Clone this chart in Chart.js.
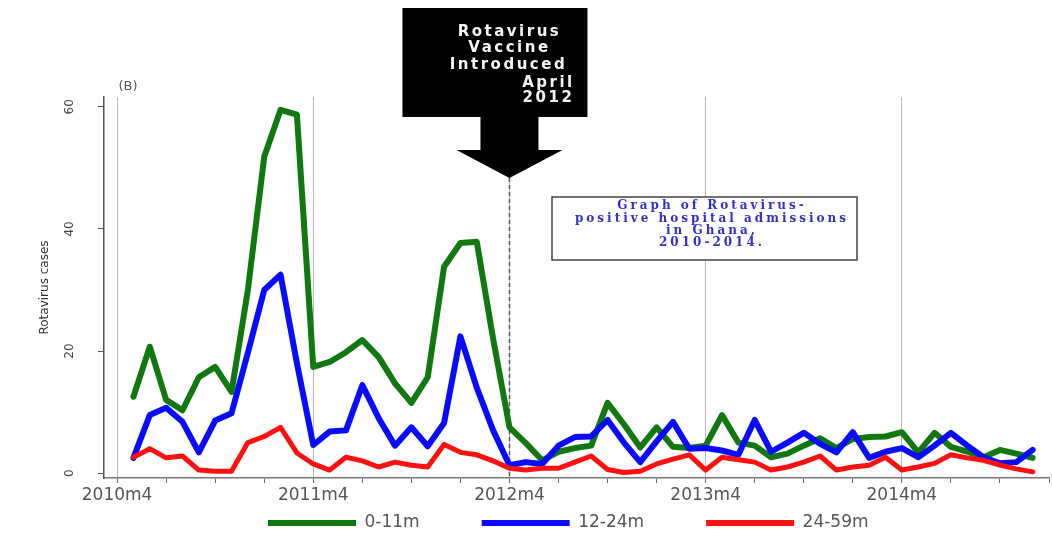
<!DOCTYPE html>
<html>
<head>
<meta charset="utf-8">
<title>Rotavirus cases, Ghana 2010-2014</title>
<script src="https://cdn.jsdelivr.net/npm/chart.js@4.4.1/dist/chart.umd.min.js"></script>
<style>
  html, body { margin: 0; padding: 0; background: #fff; }
  #wrap { width: 1052px; height: 533px; position: relative; }
</style>
</head>
<body>
<div id="wrap"><canvas id="chart"></canvas></div>
<script>
// monthly observations, 2010m5 .. 2014m12
const months = [
  "2010m5", "2010m6", "2010m7", "2010m8", "2010m9", "2010m10", "2010m11", "2010m12",
  "2011m1", "2011m2", "2011m3", "2011m4", "2011m5", "2011m6", "2011m7", "2011m8", "2011m9", "2011m10", "2011m11", "2011m12",
  "2012m1", "2012m2", "2012m3", "2012m4", "2012m5", "2012m6", "2012m7", "2012m8", "2012m9", "2012m10", "2012m11", "2012m12",
  "2013m1", "2013m2", "2013m3", "2013m4", "2013m5", "2013m6", "2013m7", "2013m8", "2013m9", "2013m10", "2013m11", "2013m12",
  "2014m1", "2014m2", "2014m3", "2014m4", "2014m5", "2014m6", "2014m7", "2014m8", "2014m9", "2014m10", "2014m11", "2014m12"
]

const cases0to11 = [
  12.5, 20.7, 12, 10.3, 15.7, 17.4, 13.3, 30,
  51.8, 59.5, 58.7, 17.4, 18.2, 19.8, 21.8, 19, 14.7, 11.5, 15.7, 33.8,
  37.7, 37.9, 22, 7.5, 4.9, 2.1, 3.5, 4.1, 4.5, 11.5, 8, 4.2,
  7.5, 4.3, 4.1, 4.5, 9.5, 5, 4.5, 2.6, 3.2, 4.5, 5.7, 4.1,
  5.6, 5.9, 6, 6.7, 3.4, 6.6, 4.3, 3.5, 2.6, 3.8, 3.2, 2.5
]

const cases12to24 = [
  2.5, 9.5, 10.7, 8.4, 3.4, 8.6, 9.8, 19.7,
  30, 32.5, 18, 4.6, 6.8, 7, 14.4, 9, 4.5, 7.5, 4.4, 8.2,
  22.4, 14, 7, 1.3, 1.8, 1.5, 4.5, 5.9, 6, 8.7, 5, 1.8,
  5.2, 8.4, 4, 4.1, 3.7, 3, 8.7, 3.5, 5, 6.6, 4.8, 3.4,
  6.7, 2.5, 3.5, 4.1, 2.6, 4.5, 6.6, 4.5, 2.6, 1.6, 1.8, 3.8
]

const cases24to59 = [
  2.6, 4, 2.5, 2.8, 0.5, 0.3, 0.3, 5,
  6, 7.5, 3.3, 1.5, 0.5, 2.6, 2, 1, 1.8, 1.3, 1, 4.7,
  3.4, 3, 2, 0.8, 0.5, 0.8, 0.8, 1.8, 2.8, 0.6, 0.1, 0.3,
  1.5, 2.3, 3, 0.5, 2.6, 2.2, 1.8, 0.5, 1, 1.8, 2.8, 0.5,
  1, 1.3, 2.6, 0.5, 1, 1.6, 3, 2.5, 2.1, 1.3, 0.7, 0.2
]

const yearTicks = ["2010m4", "2011m4", "2012m4", "2013m4", "2014m4"]
const yTicks = [0, 20, 40, 60]
const vaccineMonth = "2012m4"
const calloutText = ["Rotavirus", "Vaccine", "Introduced", "April", "2012"]
const noteText = ["Graph of Rotavirus-", "positive hospital admissions", "in Ghana,", "2010-2014."]

// months since 2010m4
function monthIndex(label) {
  const [y, m] = label.split("m").map(Number)
  return (y - 2010) * 12 + (m - 4)
}

function points(values) {
  return months.map((m, i) => ({ x: monthIndex(m), y: values[i] }))
}

const xTickValues = []
for (let v = 0; v <= 57; v += 3) xTickValues.push(v)

// legend row is laid out by Chart.js, then moved to where the original sits
const legendPlace = {
  id: "legendPlace",
  afterInit(chart) {
    const lg = chart.legend
    const fit = lg.fit
    lg.fit = function () {
      fit.call(this)
      this.height = 0
    }
  },
  afterLayout(chart) {
    const lg = chart.legend
    const pad = lg.options.labels.padding
    const start = (lg.left + pad + lg.right - lg.lineWidths[0]) / 2
    const dx = 268 - start
    lg.left += dx
    lg.right += dx
    lg.top = 523 - 8.5 - pad
    lg.bottom = chart.height
    lg.height = lg.bottom - lg.top
  }
}

const annotations = {
  id: "annotations",
  beforeDatasetsDraw(chart) {
    const { ctx, chartArea, scales: { x } } = chart
    const vx = x.getPixelForValue(monthIndex(vaccineMonth))
    ctx.save()
    ctx.strokeStyle = "#555"
    ctx.lineWidth = 1.5
    ctx.setLineDash([4, 3])
    ctx.beginPath()
    ctx.moveTo(vx, 178)
    ctx.lineTo(vx, chartArea.bottom)
    ctx.stroke()
    ctx.restore()
  },
  afterDraw(chart) {
    const { ctx, scales: { x } } = chart
    const vx = x.getPixelForValue(monthIndex(vaccineMonth))
    ctx.save()

    // panel letter
    ctx.fillStyle = "#555"
    ctx.font = '13px "DejaVu Sans"'
    ctx.textAlign = "center"
    ctx.textBaseline = "middle"
    ctx.fillText("(B)", 128, 87)

    // black callout with arrow
    ctx.fillStyle = "#000"
    ctx.fillRect(vx - 107, 8, 185, 109)
    ctx.beginPath()
    ctx.moveTo(vx - 29, 116)
    ctx.lineTo(vx + 29, 116)
    ctx.lineTo(vx + 29, 150)
    ctx.lineTo(vx + 53, 150)
    ctx.lineTo(vx, 178)
    ctx.lineTo(vx - 53, 150)
    ctx.lineTo(vx - 29, 150)
    ctx.closePath()
    ctx.fill()

    ctx.fillStyle = "#f4f4f4"
    ctx.font = 'bold 15px "DejaVu Sans"'
    ctx.letterSpacing = "2.5px"
    const callPos = [[0, 32], [0, 48], [-1, 65], [39, 83], [39, 98]]
    calloutText.forEach((t, i) => ctx.fillText(t, vx + callPos[i][0], callPos[i][1]))

    // note box
    ctx.letterSpacing = "0px"
    ctx.fillStyle = "#fff"
    ctx.fillRect(552, 197, 305, 63)
    ctx.strokeStyle = "#444"
    ctx.lineWidth = 1.5
    ctx.strokeRect(552, 197, 305, 63)
    ctx.fillStyle = "#3232c8"
    ctx.font = 'bold 12px "DejaVu Serif"'
    ctx.letterSpacing = "3px"
    const noteY = [206, 219, 231, 243]
    noteText.forEach((t, i) => ctx.fillText(t, 712, noteY[i]))
    ctx.restore()
  }
}

const ctx = document.getElementById("chart").getContext("2d")

new Chart(ctx, {
  type: "line",
  data: {
    datasets: [
      {
        label: "0-11m",
        data: points(cases0to11),
        borderColor: "#10780f",
        backgroundColor: "#10780f",
        borderWidth: 6,
        order: 3,
      },
      {
        label: "12-24m",
        data: points(cases12to24),
        borderColor: "#0a0aff",
        backgroundColor: "#0a0aff",
        borderWidth: 6,
        order: 2,
      },
      {
        label: "24-59m",
        data: points(cases24to59),
        borderColor: "#ff1010",
        backgroundColor: "#ff1010",
        borderWidth: 5,
        order: 1,
      },
    ],
  },
  options: {
    responsive: true,
    maintainAspectRatio: false,
    animation: false,
    events: [],
    layout: { padding: { left: 0, right: 3, top: 97, bottom: 0 } },
    elements: {
      point: { radius: 0 },
      line: { tension: 0, borderJoinStyle: "round", borderCapStyle: "round", fill: false },
    },
    plugins: {
      tooltip: { enabled: false },
      legend: {
        position: "bottom",
        labels: {
          boxWidth: 88,
          boxHeight: 6,
          padding: 62,
          color: "#555",
          font: { size: 17, family: '"DejaVu Sans"' },
          sort: (a, b) => a.datasetIndex - b.datasetIndex,
          generateLabels: (chart) =>
            Chart.defaults.plugins.legend.labels.generateLabels(chart).map((l) => ({ ...l, lineWidth: 0 })),
        },
      },
    },
    scales: {
      x: {
        type: "linear",
        min: -0.8,
        max: 57,
        afterFit: (s) => { s.height = 55 },
        afterBuildTicks: (s) => { s.ticks = xTickValues.map((v) => ({ value: v })) },
        border: { color: "#777", width: 1.5 },
        grid: {
          color: (c) => (c.tick && c.tick.value % 12 === 0 ? "#b8b8b8" : "rgba(0,0,0,0)"),
          tickColor: "#666",
          tickLength: 5,
          lineWidth: 1,
        },
        ticks: {
          autoSkip: false,
          maxRotation: 0,
          padding: 2,
          color: "#555",
          font: { size: 17, family: '"DejaVu Sans"' },
          callback: (v) => (v % 12 === 0 ? yearTicks[v / 12] : ""),
        },
      },
      y: {
        min: -0.8,
        max: 61.6,
        afterFit: (s) => { s.width = 104 },
        afterBuildTicks: (s) => { s.ticks = yTicks.map((v) => ({ value: v })) },
        border: { color: "#555", width: 1.5 },
        grid: { drawOnChartArea: false, tickColor: "#555", tickLength: 6 },
        ticks: {
          minRotation: 90,
          maxRotation: 90,
          crossAlign: "center",
          padding: 20,
          color: "#444",
          font: { size: 12, family: '"DejaVu Sans"' },
        },
        title: {
          display: true,
          text: "Rotavirus cases",
          color: "#333",
          padding: { top: 38, bottom: 0 },
          font: { size: 12, family: '"DejaVu Sans"' },
        },
      },
    },
  },
  plugins: [legendPlace, annotations],
})
</script>
</body>
</html>
